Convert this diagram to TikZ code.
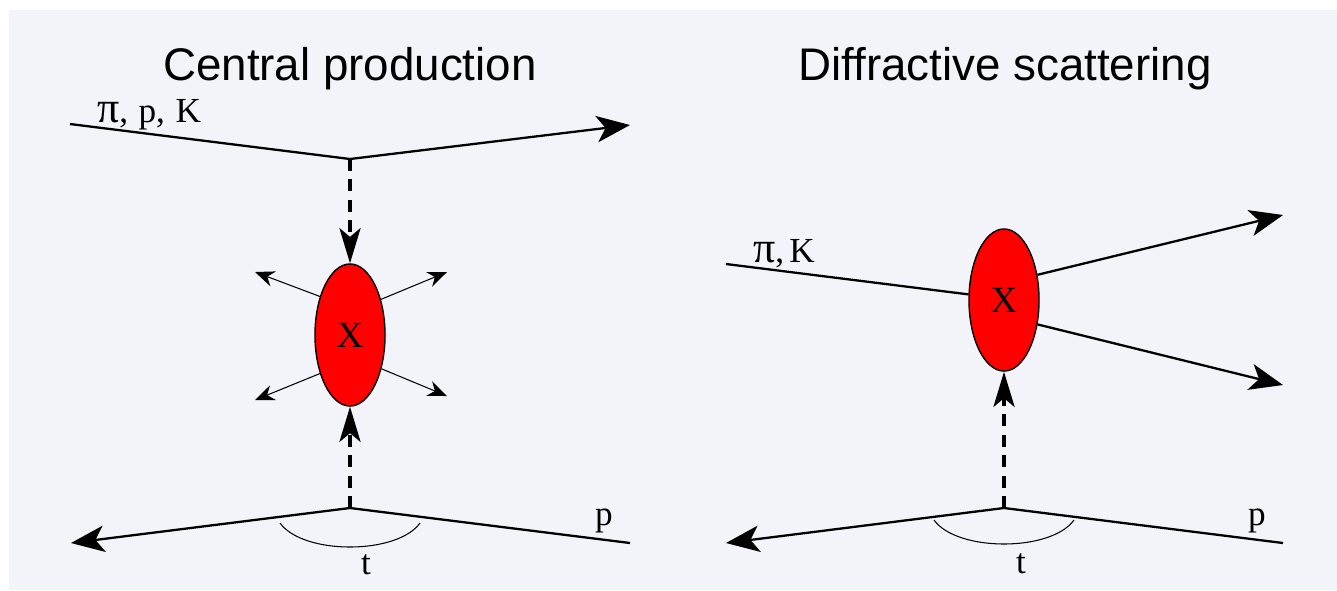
\documentclass[tikz,border=0pt]{standalone}
\usepackage{fontspec}
\setmainfont{Liberation Serif}
\newfontfamily\titlefont{Liberation Sans}
\usetikzlibrary{arrows.meta, positioning, shapes.geometric, calc}
\definecolor{bgpanel}{HTML}{F3F4F9}
\newcommand{\bigpi}{{\fontsize{12.5}{12}\selectfont π}}

\begin{document}
\begin{tikzpicture}[
  x=0.01cm, y=-0.01cm,
  title/.style={font=\titlefont\fontsize{13}{15}\selectfont, anchor=base},
  lbl/.style={font=\fontsize{10}{12}\selectfont, anchor=base, inner sep=0pt},
  beam/.style={font=\fontsize{10}{12}\selectfont, anchor=base, inner sep=0pt},
  blob/.style={draw, ellipse, fill=red, line width=0.4pt, minimum width=0.70cm,
               minimum height=1.42cm, inner sep=0pt, font=\fontsize{10.5}{12}\selectfont},
  arrow/.style={-{Stealth[length=9.5pt, width=7.5pt, inset=2.5pt]}, line width=0.65pt},
  track/.style={line width=0.65pt},
  exch/.style={-{Stealth[length=10pt, width=6pt, inset=2.5pt]}, line width=1pt,
               dash pattern=on 3.4pt off 2.4pt},
  spray/.style={-{Stealth[length=5.5pt, width=4.5pt]}, line width=0.3pt},
  tarc/.style={line width=0.3pt}
]
% panel
\useasboundingbox (0,0) rectangle (1337,590);
\fill[bgpanel] (9,10) rectangle (1337,590);

% central production
\node[title] (tcp) at (350,80) {Central production};
\coordinate (inL) at (70,124);
\coordinate (vtopL) at (350,159);
\coordinate (outL) at (630,125);
\coordinate (vbotL) at (350,508);
\coordinate (pinL) at (630,543);
\coordinate (poutL) at (71,543);
\node[blob] (XL) at (350,335) {X};
\node[beam] (beamL) at (149,122) {\bigpi,\hspace{0.3em}p,\hspace{0.3em}K};
\node[lbl] (pL) at (604,525) {p};
\node[lbl] (tL) at (366,574) {t};
\coordinate (sprayA) at (255,272);
\coordinate (sprayB) at (447,272);
\coordinate (sprayC) at (255,400);
\coordinate (sprayD) at (447,396);

\draw[arrow] (inL) -- (vtopL) -- (outL);
\draw[exch] (vtopL) -- (XL.north);
\draw[exch] (vbotL) -- (XL.south);
\draw[arrow] (pinL) -- (vbotL) -- (poutL);
\draw[tarc] ($(vbotL)+(-70,15)$) .. controls ($(vbotL)+(-47,47)$) and ($(vbotL)+(47,47)$) .. ($(vbotL)+(70,15)$);
\draw[spray] (XL.128) -- (sprayA);
\draw[spray] (XL.49) -- (sprayB);
\draw[spray] (XL.232) -- (sprayC);
\draw[spray] (XL.313) -- (sprayD);

% diffractive scattering
\node[title] (tds) at (1005,80) {Diffractive scattering};
\coordinate (inR) at (726,264);
\coordinate (outRa) at (1283,215);
\coordinate (outRb) at (1283,385);
\coordinate (vbotR) at (1004,508);
\coordinate (pinR) at (1283,543);
\coordinate (poutR) at (726,543);
\node[blob] (XR) at (1004,300) {X};
\node[beam] (beamR) at (784,262) {\bigpi,\hspace{0.15em}K};
\node[lbl] (pR) at (1257,525) {p};
\node[lbl] (tR) at (1021,573) {t};

\draw[track] (inR) -- (XR.171);
\draw[arrow] (XR.37) -- (outRa);
\draw[arrow] (XR.-36) -- (outRb);
\draw[exch] (vbotR) -- (XR.south);
\draw[arrow] (pinR) -- (vbotR) -- (poutR);
\draw[tarc] ($(vbotR)+(-70,12)$) .. controls ($(vbotR)+(-47,44)$) and ($(vbotR)+(47,44)$) .. ($(vbotR)+(70,12)$);
\end{tikzpicture}
\end{document}
